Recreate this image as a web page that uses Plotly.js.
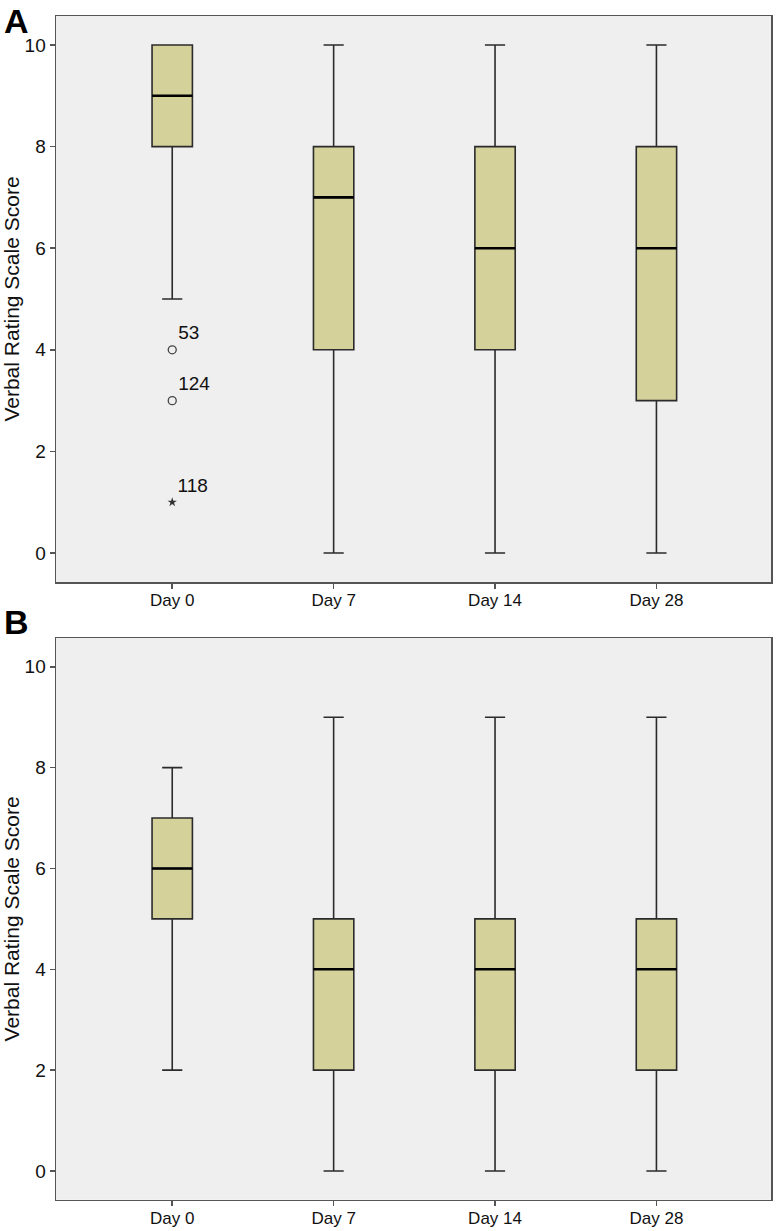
<!DOCTYPE html>
<html>
<head>
<meta charset="utf-8">
<script src="https://cdn.plot.ly/plotly-3.0.1.min.js"></script>
<style>
  body { margin: 0; background: #fff; }
  #chart { width: 776px; height: 1231px; }
</style>
</head>
<body>
<div id="chart"></div>
<script>
var days = ["Day 0", "Day 7", "Day 14", "Day 28"];

// panel A (box summaries)
var aLower = [5, 0, 0, 0];
var aQ1 = [8, 4, 4, 3];
var aMedian = [9, 7, 6, 6];
var aQ3 = [10, 8, 8, 8];
var aUpper = [10, 10, 10, 10];

// panel A outliers, all on Day 0
var aOutlierY = [4, 3];
var aOutlierIds = ["53", "124"];
var aExtremeY = [1];
var aExtremeIds = ["118"];

// panel B
var bLower = [2, 0, 0, 0];
var bQ1 = [5, 2, 2, 2];
var bMedian = [6, 4, 4, 4];
var bQ3 = [7, 5, 5, 5];
var bUpper = [8, 9, 9, 9];

var boxFill = "#d5d19b";
var boxLine = "#2b2b2b";
var bgColor = "#efefef";
var frameColor = "#555555";
var boxWidth = 0.25;
var fontFamily = "Liberation Sans, Arial, sans-serif";

function boxTrace(lower, q1, med, q3, upper, xa, ya) {
  return {
    type: "box",
    x: days,
    q1: q1,
    median: med,
    q3: q3,
    lowerfence: lower,
    upperfence: upper,
    width: boxWidth,
    whiskerwidth: 0.5,
    fillcolor: boxFill,
    line: { color: boxLine, width: 1.6 },
    boxpoints: false,
    hoverinfo: "skip",
    xaxis: xa,
    yaxis: ya,
    showlegend: false
  };
}

// thick black median bars, drawn as flat boxes on top
function medianTrace(med, xa, ya) {
  return {
    type: "box",
    x: days,
    q1: med,
    median: med,
    q3: med,
    lowerfence: med,
    upperfence: med,
    width: boxWidth,
    whiskerwidth: 0,
    fillcolor: "rgba(0,0,0,0)",
    line: { color: "#000000", width: 2.6 },
    boxpoints: false,
    hoverinfo: "skip",
    xaxis: xa,
    yaxis: ya,
    showlegend: false
  };
}

var labelFont = { family: fontFamily, size: 19, color: "#111" };

var traces = [
  boxTrace(aLower, aQ1, aMedian, aQ3, aUpper, "x", "y"),
  medianTrace(aMedian, "x", "y"),
  {
    type: "scatter",
    mode: "markers+text",
    x: aOutlierY.map(function () { return days[0]; }),
    y: aOutlierY,
    text: aOutlierIds,
    textposition: "top right",
    textfont: labelFont,
    marker: { symbol: "circle-open", size: 8, color: "#444", line: { width: 1.3 } },
    xaxis: "x",
    yaxis: "y",
    showlegend: false
  },
  {
    type: "scatter",
    mode: "markers+text",
    x: aExtremeY.map(function () { return days[0]; }),
    y: aExtremeY,
    text: aExtremeIds,
    textposition: "top right",
    textfont: labelFont,
    marker: { symbol: "star", size: 7, color: "#333" },
    xaxis: "x",
    yaxis: "y",
    showlegend: false
  },
  boxTrace(bLower, bQ1, bMedian, bQ3, bUpper, "x2", "y2"),
  medianTrace(bMedian, "x2", "y2")
];

function xAxis(anchor) {
  return {
    domain: [0.0722, 0.9936],
    anchor: anchor,
    type: "category",
    categoryorder: "array",
    categoryarray: days,
    range: [-0.72, 3.71],
    showgrid: false,
    zeroline: false,
    showline: true,
    mirror: true,
    linecolor: frameColor,
    linewidth: 1.5,
    ticks: "outside",
    ticklen: 5,
    tickwidth: 1.5,
    tickcolor: frameColor,
    ticklabelstandoff: -3,
    tickfont: { family: fontFamily, size: 17, color: "#111" },
    fixedrange: true
  };
}

function yAxis(anchor, domain) {
  return {
    domain: domain,
    anchor: anchor,
    range: [-0.57, 10.57],
    tickvals: [0, 2, 4, 6, 8, 10],
    showgrid: false,
    zeroline: false,
    showline: true,
    mirror: true,
    linecolor: frameColor,
    linewidth: 1.5,
    ticks: "outside",
    ticklen: 5,
    tickwidth: 1.5,
    tickcolor: frameColor,
    tickfont: { family: fontFamily, size: 19, color: "#111" },
    title: {
      text: "Verbal Rating Scale Score",
      font: { family: fontFamily, size: 21, color: "#111" },
      standoff: 3
    },
    fixedrange: true
  };
}

var layout = {
  width: 776,
  height: 1231,
  margin: { l: 0, r: 0, t: 0, b: 0 },
  paper_bgcolor: "#ffffff",
  plot_bgcolor: bgColor,
  boxmode: "overlay",
  showlegend: false,
  xaxis: xAxis("y"),
  yaxis: yAxis("x", [0.5272, 0.987]),
  xaxis2: xAxis("y2"),
  yaxis2: yAxis("x2", [0.0254, 0.4817]),
  annotations: [
    {
      text: "<b>A</b>", xref: "paper", yref: "paper", x: 0.003, y: 1.0,
      xanchor: "left", yanchor: "top", showarrow: false,
      font: { family: fontFamily, size: 34, color: "#000" }
    },
    {
      text: "<b>B</b>", xref: "paper", yref: "paper", x: 0.003, y: 0.5115,
      xanchor: "left", yanchor: "top", showarrow: false,
      font: { family: fontFamily, size: 34, color: "#000" }
    }
  ]
};

Plotly.newPlot("chart", traces, layout, { displayModeBar: false, staticPlot: true });
</script>
</body>
</html>
